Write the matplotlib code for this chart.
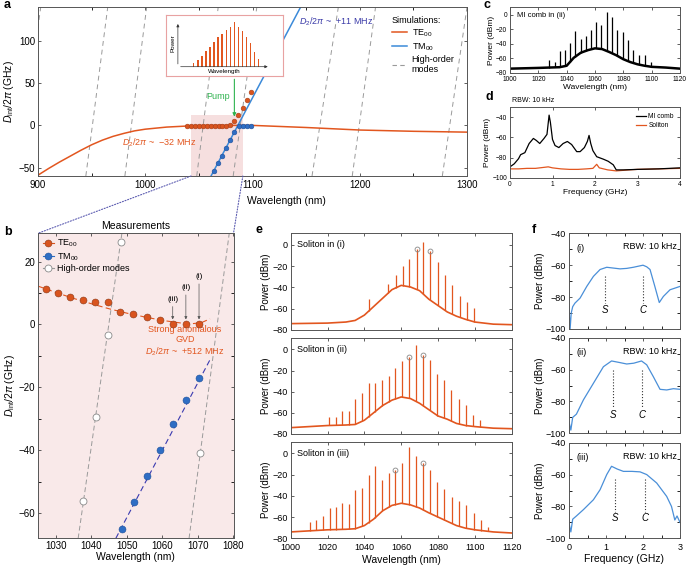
import matplotlib
matplotlib.use("Agg")
import matplotlib.pyplot as plt
import numpy as np
from matplotlib.lines import Line2D
from matplotlib.patches import Rectangle, ConnectionPatch

plt.rcParams['font.family'] = ['Liberation Sans', 'DejaVu Sans']
plt.rcParams['mathtext.fontset'] = 'custom'
plt.rcParams['mathtext.rm'] = 'Liberation Sans'
plt.rcParams['mathtext.it'] = 'Liberation Sans:italic'
plt.rcParams['axes.linewidth'] = 0.7
plt.rcParams['axes.edgecolor'] = '#555555'

ORANGE = '#e2561f'
BLUE = '#3b8ad9'
DOT_BLUE = '#2f6ec4'
GRAY = '#9a9a9a'
PINK = '#f9e9e9'

# ---------------- panel a : simulated dispersion ----------------
te_sim_wl = [900, 910, 920, 930, 940, 950, 960, 970, 980, 990, 1000, 1020, 1040, 1060, 1100, 1150, 1200, 1250, 1300]
te_sim_d = [-59, -51, -43.5, -36.5, -29.5, -23, -17.5, -13, -9.5, -6.5, -4.5, -2, -0.7, 0, 0, -2.5, -5.5, -7, -8]
tm_sim_wl = [1058, 1146]
tm_sim_d = [-68, 143]
# high-order modes: wavelength at D=-60 and at D=140
hom_bottom = [881, 944.6, 981, 1048, 1082, 1155.5, 1193, 1277]
hom_top = [902.5, 965, 1001.3, 1068, 1104, 1180, 1214.7, 1300]
te_meas_wl = [1038.7, 1042.4, 1046.1, 1049.8, 1053.5, 1057.2, 1060.9, 1064.6, 1068.3, 1072.0, 1075.7,
              1079.4, 1083.1, 1086.9, 1090.8, 1094.8, 1098.9]
te_meas_d = [-0.8, -0.8, -0.8, -0.8, -0.8, -0.8, -0.8, -0.8, -0.8, -0.6, -0.4, 0.2, 5.5, 12.5, 21, 30, 39.5]
tm_meas_wl = [1064.5, 1068.2, 1071.6, 1075.7, 1079.1, 1083.1, 1087.0, 1090.7, 1094.7, 1098.4]
tm_meas_d = [-54.6, -44.7, -35.7, -26.3, -17.3, -8.3, -1, -0.8, -0.8, -0.8]
inset_power = [3.3, 6.7, 10.7, 15.7, 20, 24.7, 29.3, 32.3, 36.7, 40, 45, 40, 36, 30, 23.3, 14.3, 7.3]

# ---------------- panel b : measured dispersion ----------------
b_te_wl = [1027.2, 1030.5, 1034.0, 1037.6, 1041.1, 1044.6, 1048.2, 1051.8, 1055.6, 1059.3, 1062.9, 1066.6, 1070.3]
b_te_d = [11.3, 10.0, 8.8, 7.9, 7.0, 7.2, 3.9, 3.3, 2.3, 1.4, 0.3, 0.0, 0.3]
b_te_fit_wl = [1025, 1030, 1035, 1040, 1045, 1050, 1055, 1060, 1065, 1068, 1071, 1073.4]
b_te_fit_d = [12.2, 10.2, 8.3, 6.6, 5.0, 3.6, 2.4, 1.3, 0.5, 0.2, 0.6, 1.8]
b_tm_wl = [1048.5, 1052.1, 1055.7, 1059.3, 1063.0, 1066.7, 1070.3]
b_tm_d = [-65.2, -56.6, -48.3, -39.8, -31.7, -24.1, -16.9]
b_tm_fit_wl = [1046.9, 1073.3]
b_tm_fit_d = [-68, -11.4]
b_hom_wl = [1037.8, 1041.2, 1044.6, 1048.3, 1070.5]
b_hom_d = [-56.1, -29.4, -3.3, 26.1, -41]
b_hom_lines = [([1036.3, 1048.6], [-68, 29]), ([1067.5, 1078.8], [-68, 29])]

# ---------------- panel c : MI comb spectrum ----------------
c_env_wl = [1000, 1020, 1035, 1040, 1045, 1050, 1055, 1060, 1065, 1070, 1075, 1080, 1085, 1090, 1095, 1100, 1110, 1120]
c_env_db = [-74, -73, -72, -70, -59, -52, -48.5, -46, -47, -51, -55.5, -61, -65, -68, -70, -71.5, -72.5, -74]
c_line_wl = [1027.8, 1032, 1035.3, 1039, 1042.4, 1046.1, 1050, 1053.6, 1057.4, 1060.7, 1064.5, 1068.2,
             1072, 1075.8, 1080, 1083.3, 1087.1, 1090.8, 1095, 1099.3]
c_line_db = [-62.5, -64.8, -50, -48.6, -38, -21.8, -33.3, -28.7, -20.8, -9.7, -13.9, 4.6, -2.3,
             -20.8, -23.1, -34.7, -47.7, -54.6, -54.6, -64.8]

# ---------------- panel d : RF spectra ----------------
d_mi_f = [0, 0.1, 0.2, 0.25, 0.35, 0.45, 0.55, 0.62, 0.7, 0.8, 0.87, 0.92, 0.95, 1.0, 1.06, 1.15, 1.25, 1.35,
          1.45, 1.57, 1.65, 1.75, 1.82, 1.86, 1.9, 1.95, 2.04, 2.2, 2.31, 2.43, 2.5, 2.67, 3.0, 3.5, 4.0]
d_mi_db = [-89, -86, -81, -77, -75, -66, -61, -63, -66, -61, -57, -38, -45, -62, -68, -70, -66, -64,
           -67, -74, -74, -70, -64, -58, -66, -73, -79, -81.5, -83.5, -87, -92, -92, -91.5, -91, -90]
d_sol_f = [0, 0.2, 0.4, 0.6, 0.8, 0.9, 1.0, 1.2, 1.4, 1.6, 1.8, 1.95, 2.04, 2.1, 2.3, 2.5, 2.8, 3.0, 3.5, 4.0]
d_sol_db = [-91, -91, -90.5, -90.5, -89.5, -89, -90, -91, -91.5, -91.5, -91, -90.5, -86.5, -90, -92, -93,
            -92, -91.5, -91, -90.5]

# ---------------- panel e : soliton spectra ----------------
e_env_wl = [1000, 1020, 1030, 1035, 1040, 1045, 1050, 1055, 1060, 1065, 1070, 1075, 1080, 1085, 1090, 1095, 1100, 1110, 1120]
e1_env_db = [-74, -73.5, -72.5, -71, -66, -58, -50, -42, -38, -39.5, -43, -51, -57, -63, -67, -70, -72.5, -74.5, -75]
e2_env_db = [-74, -72, -71.5, -71, -67, -60, -53, -48, -45, -46.5, -51, -57, -63, -66, -70, -72, -73, -74.5, -75]
e3_env_db = [-74, -72, -71.5, -71, -68, -62, -54, -49, -47, -48.5, -51.5, -56, -60, -64, -68, -70.5, -72, -74, -75]
e1_line_wl = [1042.3, 1053, 1057, 1060.8, 1064.4, 1068.4, 1072, 1075.8, 1079.8, 1083.8, 1087.7, 1091.7, 1095.5, 1099.5]
e1_line_db = [-51, -36.7, -28, -19.8, -13.5, -4, 3, -5.3, -15.7, -28, -38, -48, -54, -59.6]
e2_line_wl = [1021, 1024.6, 1027.8, 1031.5, 1035, 1038.7, 1042.3, 1045.9, 1049.6, 1053.2, 1056.8, 1060.6,
              1064.4, 1068, 1071.9, 1075.6, 1079.6, 1083.4, 1087.2, 1091.4, 1095.3, 1099.1, 1102.9]
e2_line_db = [-64.3, -63.7, -58, -58, -46.5, -41.4, -31.4, -31.4, -28.9, -25.1, -17.9, -11, -6.9, 4,
              -5.6, -10.4, -23.6, -29.2, -38.6, -47, -52.7, -61.8, -66.8]
e3_line_wl = [1010.5, 1014, 1017.5, 1021.2, 1024.6, 1028, 1031.6, 1035, 1038.7, 1042.3, 1045.7, 1049.6, 1053.2,
              1056.8, 1060.6, 1064.2, 1068, 1071.9, 1075.6, 1079.6, 1083.4, 1087.4, 1091.4, 1095.3, 1099.3,
              1103.3, 1107.3]
e3_line_db = [-65, -62.8, -59, -51.8, -50.2, -47.1, -47.7, -34.5, -32.3, -20.4, -12, -25.1, -18.8, -15.7,
              -9.4, 5.6, -2.2, -9.4, -15.7, -26.7, -33.6, -40.8, -44.6, -48.6, -55.9, -62.8, -69]
e_ring_wl = [[1068.4, 1075.8], [1064.4, 1071.9], [1056.8, 1071.9]]
e_ring_db = [[-4, -5.3], [-6.9, -5.6], [-15.7, -9.4]]

# ---------------- panel f : beat notes ----------------
f1_f = [0, 0.03, 0.06, 0.1, 0.16, 0.3, 0.48, 0.66, 0.84, 1.02, 1.2, 1.38, 1.56, 1.74, 1.9, 2.0, 2.1, 2.19,
        2.32, 2.44, 2.55, 2.73, 3.0]
f1_db = [-86, -100, -90, -86, -83.8, -80.6, -73.3, -67, -62.7, -61.3, -61.8, -62.3, -62, -61.3, -60.5, -60,
         -61, -62.7, -73.3, -83.4, -79.6, -75.4, -73.3]
f2_f = [0, 0.05, 0.1, 0.2, 0.39, 0.66, 0.93, 1.15, 1.35, 1.56, 1.75, 1.96, 2.1, 2.28, 2.46, 2.64, 2.82, 3.0]
f2_db = [-92.7, -98, -90, -88, -79, -68.6, -58.2, -54.6, -55.5, -56.5, -56, -54.6, -57, -64.5, -72.4, -72.8,
         -72, -72.4]
f3_f = [0, 0.05, 0.1, 0.2, 0.39, 0.66, 0.84, 1.02, 1.15, 1.3, 1.47, 1.7, 1.92, 2.1, 2.37, 2.64, 2.77, 2.86,
        2.92, 3.0]
f3_db = [-90.5, -96, -88, -86, -82, -75.8, -69.5, -60, -54.8, -56.5, -58, -58, -58.3, -60, -65.3, -73.7,
         -80, -88.5, -86, -90]
f_sc_pos = [[0.98, 2.0], [1.2, 1.96], [1.25, 2.06]]
f_sc_top = [-66.5, -60.3, -62.5]
f_sc_bot = [-83.8, -83.3, -83.2]
f_sc_lab = [-88, -88.6, -87.4]
f_tags = ['(i)', '(ii)', '(iii)']

W, H = 688, 567
fig = plt.figure(figsize=(W / 100, H / 100), dpi=100)


def rect(x0, y0, x1, y1):
    return [x0 / W, 1 - y1 / H, (x1 - x0) / W, (y1 - y0) / H]


def style(ax, size):
    ax.tick_params(direction='in', length=2.5, width=0.6, labelsize=size, pad=2,
                   top=True, right=True, colors='#444444', labelcolor='black')


# ================= a =================
ax_a = fig.add_axes(rect(38, 7.3, 467, 176))
style(ax_a, 7)
ax_a.set_xlim(900, 1300)
ax_a.set_ylim(-60, 140)
ax_a.set_xticks([900, 1000, 1100, 1200, 1300])
ax_a.set_xticks(np.arange(950, 1300, 100), minor=True)
ax_a.tick_params(which='minor', direction='in', length=2.5, width=0.6, top=True)
ax_a.tick_params(axis='x', pad=3)
ax_a.set_yticks([-50, 0, 50, 100])
ax_a.add_patch(Rectangle((1042.7, -60), 48.3, 72, color='#f6dfdf', lw=0, zorder=0))
for x0, x1 in zip(hom_bottom, hom_top):
    ax_a.plot([x0, x1], [-60, 140], ls=(0, (5, 4)), color=GRAY, lw=0.7)
ax_a.plot(te_sim_wl, te_sim_d, color=ORANGE, lw=1.1)
ax_a.plot(tm_sim_wl, tm_sim_d, color=BLUE, lw=1.1)
ax_a.plot(te_meas_wl, te_meas_d, 'o', ms=3.4, color='#d9541e', mec='#a5401a', mew=0.4, zorder=4)
ax_a.plot(tm_meas_wl, tm_meas_d, 'o', ms=3.4, color=DOT_BLUE, mec='#1f4f99', mew=0.4, zorder=4)
ax_a.set_xlabel('Wavelength (nm)', fontsize=7.5)
ax_a.xaxis.set_label_coords(0.58, -0.12)
ax_a.set_ylabel(r'$D_{\rm int}/2\pi$ (GHz)', fontsize=7.5, labelpad=2)
ax_a.text(1013, -21, r'$D_2/2\pi$ ~  $-$32 MHz', color=ORANGE, fontsize=6.5, ha='center', va='center')
ax_a.text(1178, 123, r'$D_2/2\pi$ ~  +11 MHz', color='#3a3aa8', fontsize=6.5, ha='center', va='center')
ax_a.annotate('', xy=(1083.1, 7), xytext=(1083.1, 58),
              arrowprops=dict(arrowstyle='-|>', color='#2fb34f', lw=0.8, mutation_scale=5))
ax_a.text(1079, 34, 'Pump', color='#2fb34f', fontsize=6.5, ha='right', va='center')
leg = ax_a.legend([Line2D([], [], color=ORANGE, lw=1.1), Line2D([], [], color=BLUE, lw=1.1),
                   Line2D([], [], color=GRAY, lw=0.8, ls=(0, (4, 3)))],
                  [r'TE$_{00}$', r'TM$_{00}$', 'High-order\nmodes'],
                  title='Simulations:', loc='upper left', bbox_to_anchor=(0.81, 0.985),
                  frameon=False, fontsize=6.5, title_fontsize=6.5, handlelength=1.7,
                  handletextpad=0.5, labelspacing=0.25, borderpad=0.2)
leg._legend_box.align = 'left'

# inset sketch
ax_in = fig.add_axes(rect(165.7, 15, 282.7, 76))
ax_in.set_xlim(-6.9, 21.9)
ax_in.set_ylim(-9.3, 51.7)
ax_in.set_xticks([])
ax_in.set_yticks([])
for s in ax_in.spines.values():
    s.set_color('#e8a2a2')
    s.set_linewidth(0.8)
ax_in.bar(np.arange(len(inset_power)), inset_power, width=0.35, color=ORANGE)
ax_in.annotate('', xy=(-3.9, 45.5), xytext=(-3.9, 0),
               arrowprops=dict(arrowstyle='-|>', color='#333333', lw=0.5, mutation_scale=4))
ax_in.annotate('', xy=(18.9, 0), xytext=(-3.9, 0),
               arrowprops=dict(arrowstyle='-|>', color='#333333', lw=0.5, mutation_scale=4))
ax_in.text(-5.2, 24, 'Power', rotation=90, fontsize=4.5, ha='center', va='center')
ax_in.text(7.5, -4.6, 'Wavelength', fontsize=4.5, ha='center', va='center')

# ================= b =================
ax_b = fig.add_axes(rect(38, 233.3, 233.5, 538.3))
style(ax_b, 7)
ax_b.set_facecolor(PINK)
ax_b.set_xlim(1025, 1080)
ax_b.set_ylim(-68, 29)
ax_b.set_xticks(np.arange(1030, 1081, 10))
ax_b.set_yticks([-60, -40, -20, 0, 20])
ax_b.set_yticks(np.arange(-50, 29, 20), minor=True)
ax_b.tick_params(which='minor', direction='in', length=2, width=0.6, right=True)
for xs, ys in b_hom_lines:
    ax_b.plot(xs, ys, ls=(0, (5, 3)), color=GRAY, lw=0.7)
ax_b.plot(b_te_fit_wl, b_te_fit_d, ls=(0, (5, 3)), color=ORANGE, lw=0.8)
ax_b.plot(b_tm_fit_wl, b_tm_fit_d, ls=(0, (5, 3)), color='#3a3ab0', lw=0.8)
ax_b.plot(b_te_wl, b_te_d, 'o', ms=5, color='#d9541e', mec='#8a3a1a', mew=0.4, zorder=4)
ax_b.plot(b_tm_wl, b_tm_d, 'o', ms=5, color=DOT_BLUE, mec='#1f4f99', mew=0.4, zorder=4)
ax_b.plot(b_hom_wl, b_hom_d, 'o', ms=5, color='white', mec='#8a8a8a', mew=0.6, zorder=4)
ax_b.set_title('Measurements', fontsize=7.5, pad=3)
ax_b.set_xlabel('Wavelength (nm)', fontsize=7.5, labelpad=1)
ax_b.set_ylabel(r'$D_{\rm int}/2\pi$ (GHz)', fontsize=7.5, labelpad=1)
for tag, x, ytxt in zip(['(iii)', '(ii)', '(i)'], [b_te_wl[10], b_te_wl[11], b_te_wl[12]], [6.8, 10.5, 14]):
    ax_b.annotate(tag, xy=(x, 1.6), xytext=(x, ytxt), fontsize=6, ha='center', va='bottom',
                  arrowprops=dict(arrowstyle='-|>', color='#555555', lw=0.5, mutation_scale=4,
                                  shrinkA=0.5, shrinkB=0))
ax_b.text(1066.3, -5.5, 'Strong anomalous\nGVD\n' + r'$D_2/2\pi$ ~  +512 MHz', color=ORANGE,
          fontsize=6.5, ha='center', va='center', linespacing=1.15)
ax_b.legend([Line2D([], [], color='#d9541e', marker='o', ms=5, mec='#8a3a1a', mew=0.4, lw=0.8),
             Line2D([], [], color=DOT_BLUE, marker='o', ms=5, mec='#1f4f99', mew=0.4, lw=0.8),
             Line2D([], [], color=GRAY, marker='o', ms=5, mfc='white', mec='#8a8a8a', mew=0.6, lw=0.8)],
            [r'TE$_{00}$', r'TM$_{00}$', 'High-order modes'], loc='upper left', frameon=False,
            fontsize=6.5, handlelength=1.3, handletextpad=0.3, labelspacing=0.2, borderpad=0.3,
            borderaxespad=0.2)

for xa, xb in [(1042.7, 0), (1091, 1)]:
    con = ConnectionPatch(xyA=(xa, -60), coordsA=ax_a.transData, xyB=(xb, 1), coordsB=ax_b.transAxes,
                          color='#5a5ab0', lw=0.8, ls=(0, (1, 1.5)))
    fig.add_artist(con)

# ================= c =================
ax_c = fig.add_axes(rect(510, 7, 680, 73))
style(ax_c, 4.8)
ax_c.set_xlim(1000, 1120)
ax_c.set_ylim(-80, 11)
ax_c.set_xticks(np.arange(1000, 1121, 20))
ax_c.set_yticks([-80, -60, -40, -20, 0])
ax_c.plot(c_env_wl, c_env_db, color='black', lw=1.8)
ax_c.vlines(c_line_wl, np.interp(c_line_wl, c_env_wl, c_env_db), c_line_db, color='black', lw=0.9)
ax_c.text(0.04, 0.87, 'MI comb in (ii)', transform=ax_c.transAxes, fontsize=5.5, va='center')
ax_c.set_xlabel('Wavelength (nm)', fontsize=6, labelpad=1)
ax_c.set_ylabel('Power (dBm)', fontsize=6, labelpad=1)

# ================= d =================
ax_d = fig.add_axes(rect(510, 107, 680, 178))
style(ax_d, 4.8)
ax_d.set_xlim(0, 4)
ax_d.set_ylim(-100, -30)
ax_d.set_xticks([0, 1, 2, 3, 4])
ax_d.set_yticks([-100, -80, -60, -40])
ax_d.plot(d_sol_f, d_sol_db, color=ORANGE, lw=0.9, label='Soliton')
ax_d.plot(d_mi_f, d_mi_db, color='black', lw=0.9, label='MI comb')
h, l = ax_d.get_legend_handles_labels()
ax_d.legend(h[::-1], l[::-1], loc='upper right', frameon=False, fontsize=4.8, handlelength=1.5,
            labelspacing=0.3, handletextpad=0.4)
ax_d.text(0.01, 1.04, 'RBW: 10 kHz', transform=ax_d.transAxes, fontsize=5, va='bottom')
ax_d.set_xlabel('Frequency (GHz)', fontsize=6, labelpad=1)
ax_d.set_ylabel('Power (dBm)', fontsize=6, labelpad=1)

# ================= e =================
e_rows = [(233.3, 330), (337.7, 434), (441.7, 538.3)]
e_env = [e1_env_db, e2_env_db, e3_env_db]
e_lines = [(e1_line_wl, e1_line_db), (e2_line_wl, e2_line_db), (e3_line_wl, e3_line_db)]
for i, (y0, y1) in enumerate(e_rows):
    ax = fig.add_axes(rect(290.7, y0, 511.7, y1))
    style(ax, 6.5)
    ax.tick_params(axis='x', pad=3.5)
    ax.set_xlim(1000, 1120)
    ax.set_ylim(-80, 11)
    ax.set_xticks(np.arange(1000, 1121, 20))
    ax.set_yticks([-80, -60, -40, -20, 0])
    ax.plot(e_env_wl, e_env[i], color=ORANGE, lw=1.2)
    wl, db = e_lines[i]
    ax.vlines(wl, np.interp(wl, e_env_wl, e_env[i]), db, color=ORANGE, lw=0.9)
    ax.plot(e_ring_wl[i], e_ring_db[i], 'o', ms=3.5, mfc='none', mec='#888888', mew=0.6)
    ax.text(0.03, 0.88, 'Soliton in ' + f_tags[i], transform=ax.transAxes, fontsize=6.5, va='center')
    ax.set_ylabel('Power (dBm)', fontsize=7, labelpad=1)
    if i < 2:
        ax.set_xticklabels([])
    else:
        ax.set_xlabel('Wavelength (nm)', fontsize=7.5, labelpad=2)

# ================= f =================
f_rows = [(233.3, 329), (337.7, 433.3), (442.7, 538.3)]
f_curves = [(f1_f, f1_db), (f2_f, f2_db), (f3_f, f3_db)]
for i, (y0, y1) in enumerate(f_rows):
    ax = fig.add_axes(rect(569, y0, 680, y1))
    style(ax, 6.5)
    ax.tick_params(axis='x', pad=3.5)
    ax.set_xlim(0, 3)
    ax.set_ylim(-100, -40)
    ax.set_xticks([0, 1, 2, 3])
    ax.set_xticks([0.5, 1.5, 2.5], minor=True)
    ax.tick_params(which='minor', direction='in', length=2, width=0.6, top=True)
    ax.set_yticks([-100, -80, -60, -40])
    ax.set_yticks([-90, -70, -50], minor=True)
    ax.tick_params(axis='y', which='minor', direction='in', length=2, width=0.6, right=True)
    ax.plot(f_curves[i][0], f_curves[i][1], color='#4a8fd8', lw=0.9)
    for x, lab in zip(f_sc_pos[i], ['S', 'C']):
        ax.plot([x, x], [f_sc_top[i], f_sc_bot[i]], ls=':', color='#333333', lw=0.8)
        ax.text(x, f_sc_lab[i], lab, fontsize=7, style='italic', ha='center', va='center')
    ax.text(0.07, 0.84, f_tags[i], transform=ax.transAxes, fontsize=6.5, va='center')
    ax.text(0.97, 0.86, 'RBW: 10 kHz', transform=ax.transAxes, fontsize=6.5, ha='right', va='center')
    ax.set_ylabel('Power (dBm)', fontsize=7, labelpad=1)
    if i < 2:
        ax.set_xticklabels([])
    else:
        ax.set_xlabel('Frequency (GHz)', fontsize=7.5, labelpad=1.5)

for lab, x, y in [('a', 4, 5), ('b', 4, 232), ('c', 484, 5), ('d', 485, 97), ('e', 256, 230), ('f', 532, 230)]:
    fig.text(x / W, 1 - y / H, lab, fontsize=9, weight='bold', ha='left', va='center')

fig.savefig('out.png', dpi=100)
